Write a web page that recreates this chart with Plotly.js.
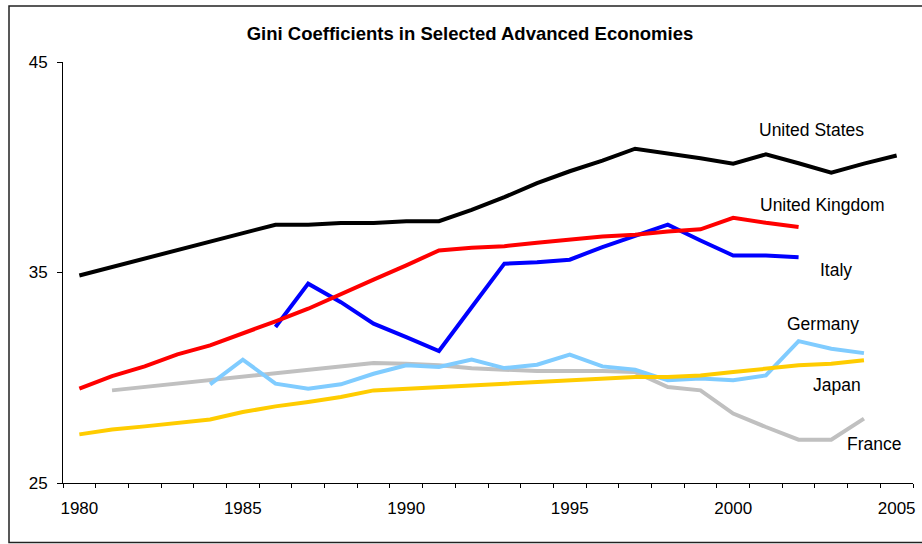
<!DOCTYPE html>
<html>
<head>
<meta charset="utf-8">
<script src="https://cdn.plot.ly/plotly-3.0.1.min.js"></script>
<style>
  html, body { margin: 0; padding: 0; background: #fff; }
  #chart { width: 922px; height: 544px; }
</style>
</head>
<body>
<div id="chart"></div>
<script>
// ---- Data ----
const years = [1980,1981,1982,1983,1984,1985,1986,1987,1988,1989,1990,1991,1992,1993,1994,1995,1996,1997,1998,1999,2000,2001,2002,2003,2004,2005];

const unitedStates = [34.86,35.26,35.66,36.07,36.47,36.87,37.27,37.27,37.35,37.35,37.44,37.44,37.98,38.58,39.25,39.81,40.31,40.88,40.67,40.43,40.17,40.61,40.19,39.74,40.17,40.56];
const unitedKingdom = [29.48,30.08,30.54,31.11,31.54,32.09,32.68,33.28,33.99,34.66,35.34,36.05,36.17,36.25,36.41,36.57,36.71,36.79,36.95,37.05,37.60,37.36,37.16,null,null,null];
const italy = [null,null,null,null,null,null,32.41,34.47,33.59,32.57,31.93,31.27,33.35,35.42,35.49,35.61,36.21,36.76,37.27,36.52,35.81,35.81,35.73,null,null,null];
const germany = [null,null,null,null,29.69,30.86,29.72,29.48,29.69,30.19,30.59,30.51,30.86,30.46,30.62,31.10,30.54,30.38,29.88,29.96,29.88,30.11,31.74,31.38,31.17,null];
const japan = [27.31,27.54,27.69,27.85,28.02,28.37,28.64,28.85,29.09,29.40,29.48,29.56,29.64,29.72,29.80,29.88,29.96,30.03,30.03,30.11,30.27,30.43,30.59,30.67,30.83,null];
const france = [null,29.40,29.56,29.72,29.88,30.04,30.20,30.37,30.53,30.70,30.67,30.59,30.45,30.38,30.32,30.32,30.32,30.27,29.56,29.40,28.30,27.66,27.06,27.06,28.06,null];

const xTickVals = [1980,1985,1990,1995,2000,2005];
const xTickText = ['1980','1985','1990','1995','2000','2005'];
const yTickVals = [25,35,45];

const seriesNames = ['France','Germany','Italy','United Kingdom','Japan','United States'];
const seriesValues = [france, germany, italy, unitedKingdom, japan, unitedStates];
const seriesColors = ['#C0C0C0','#80CCFF','#0000FF','#FF0000','#FFCC00','#000000'];

// Labels placed beside the lines: [text, x (year), y (value)]
const labelNames = ['United States','United Kingdom','Italy','Germany','Japan','France'];
const labelX = [2002.38, 2002.72, 2003.14, 2002.74, 2003.18, 2004.31];
const labelY = [41.76, 38.23, 35.10, 32.57, 29.66, 26.85];

// ---- Chart ----
const FONT = 'Liberation Sans, Arial, Helvetica, sans-serif';

const traces = seriesNames.map((name, i) => ({
  type: 'scatter',
  mode: 'lines',
  name: name,
  x: years,
  y: seriesValues[i],
  connectgaps: false,
  line: { color: seriesColors[i], width: 4 },
  hoverinfo: 'x+y+name'
}));

const annotations = labelNames.map((t, i) => ({
  x: labelX[i], y: labelY[i], xref: 'x', yref: 'y',
  text: t, showarrow: false,
  xanchor: 'center', yanchor: 'middle',
  font: { family: FONT, size: 17.5, color: '#000' }
}));

const layout = {
  width: 922, height: 544,
  margin: { l: 63, r: 9, t: 62, b: 61 },
  paper_bgcolor: '#fff', plot_bgcolor: '#fff',
  showlegend: false,
  font: { family: FONT, color: '#000' },
  title: {
    text: 'Gini Coefficients in Selected Advanced Economies',
    xref: 'container', yref: 'container',
    x: 470/922, y: 1 - 34/544,
    xanchor: 'center', yanchor: 'middle',
    font: { family: FONT, size: 18.5, weight: 700, color: '#000' }
  },
  xaxis: {
    range: [1979.5, 2005.5],
    tickmode: 'array', tickvals: xTickVals, ticktext: xTickText,
    ticks: '', showgrid: false, zeroline: false,
    showline: true, linecolor: '#000', linewidth: 1,
    tickfont: { family: FONT, size: 17, color: '#000' },
    ticklabelstandoff: 10,
    minor: { tickmode: 'linear', tick0: 1979.5, dtick: 1, ticks: 'outside', ticklen: 4, tickwidth: 1, tickcolor: '#000', showgrid: false }
  },
  yaxis: {
    range: [25, 45],
    tickmode: 'array', tickvals: yTickVals,
    ticks: 'outside', ticklen: 5, tickwidth: 1, tickcolor: '#000',
    showgrid: false, zeroline: false,
    showline: true, linecolor: '#000', linewidth: 1,
    tickfont: { family: FONT, size: 17, color: '#000' },
    ticklabelstandoff: 6
  },
  annotations: annotations,
  shapes: [{
    type: 'rect', xref: 'paper', yref: 'paper',
    x0: (9 - 63) / 850, x1: (930 - 63) / 850,
    y0: (483 - 542.5) / 421, y1: (483 - 6) / 421,
    line: { color: '#222', width: 1.5 }, fillcolor: 'rgba(0,0,0,0)', layer: 'below'
  }]
};

Plotly.newPlot('chart', traces, layout, { displayModeBar: false, staticPlot: true });
</script>
</body>
</html>
